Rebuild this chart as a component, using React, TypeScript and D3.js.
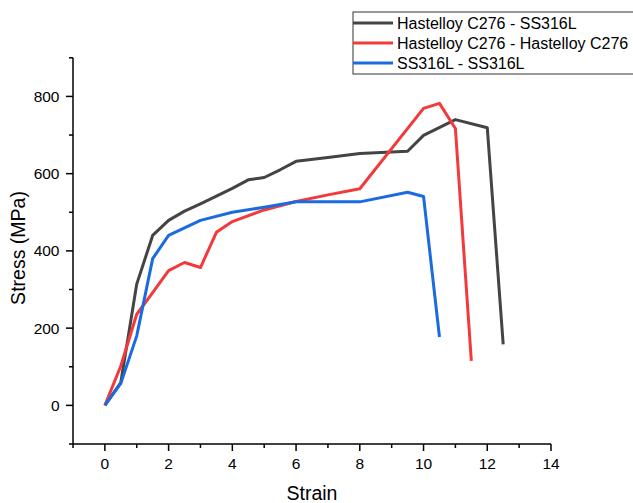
import React from "react";
import * as d3 from "d3";

const seriesNames = ["Hastelloy C276 - SS316L", "Hastelloy C276 - Hastelloy C276", "SS316L - SS316L"];
const seriesColors = ["#444444", "#f23a3c", "#1a6ae0"];

const blackStrain = [0, 0.5, 1, 1.5, 2, 2.5, 3, 3.5, 4, 4.5, 5, 5.5, 6, 7, 8, 9.5, 10, 11, 12, 12.5];
const blackStress = [0, 59, 314, 440, 479, 503, 522, 542, 562, 584, 590, 610, 632, 642, 652, 658, 699, 740, 719, 158];

const redStrain = [0, 0.5, 1, 1.5, 2, 2.5, 3, 3.5, 4, 5, 6, 7, 8, 10, 10.5, 11, 11.5];
const redStress = [0, 102, 236, 292, 349, 370, 357, 448, 476, 506, 528, 545, 561, 769, 782, 717, 115];

const blueStrain = [0, 0.5, 1, 1.5, 2, 3, 4, 5, 6, 8, 9.5, 10, 10.5];
const blueStress = [0, 57, 180, 380, 440, 479, 500, 513, 527, 527, 552, 541, 177];

const xMajor = [0, 2, 4, 6, 8, 10, 12, 14];
const xMinor = [-1, 1, 3, 5, 7, 9, 11, 13];
const yMajor = [0, 200, 400, 600, 800];
const yMinor = [-100, 100, 300, 500, 700, 900];

const W = 633;
const H = 503;
const left = 73;
const right = 551;
const top = 57.8;
const bottom = 444;

export default function App() {
  const x = d3.scaleLinear().domain([-1, 14]).range([left, right]);
  const y = d3.scaleLinear().domain([-100, 900]).range([bottom, top]);
  const line = d3
    .line<[number, number]>()
    .x((d) => x(d[0]))
    .y((d) => y(d[1]));

  const data: [number, number][][] = [
    blackStrain.map((s, i) => [s, blackStress[i]]),
    redStrain.map((s, i) => [s, redStress[i]]),
    blueStrain.map((s, i) => [s, blueStress[i]]),
  ];
  const drawOrder = [0, 1, 2];
  const font = "Arial, 'Liberation Sans', sans-serif";

  return (
    <svg
      width={W}
      height={H}
      style={{ position: "absolute", left: 0, top: 0, background: "#fff" }}
      fontFamily={font}
    >
      {drawOrder.map((i) => (
        <path
          key={i}
          d={line(data[i]) || ""}
          fill="none"
          stroke={seriesColors[i]}
          strokeWidth={3}
          strokeLinejoin="round"
        />
      ))}
      {/* axes */}
      <line x1={left} x2={left} y1={top} y2={bottom} stroke="#000" strokeWidth={1.5} />
      <line x1={left} x2={right} y1={bottom} y2={bottom} stroke="#000" strokeWidth={1.5} />
      {xMajor.map((t) => (
        <g key={"xm" + t}>
          <line x1={x(t)} x2={x(t)} y1={bottom} y2={bottom + 7} stroke="#000" strokeWidth={1.5} />
          <text x={x(t)} y={469} fontSize={15.5} textAnchor="middle" fill="#000">
            {t}
          </text>
        </g>
      ))}
      {xMinor.map((t) => (
        <line key={"xn" + t} x1={x(t)} x2={x(t)} y1={bottom} y2={bottom + 4} stroke="#000" strokeWidth={1.5} />
      ))}
      {yMajor.map((t) => (
        <g key={"ym" + t}>
          <line x1={left - 7} x2={left} y1={y(t)} y2={y(t)} stroke="#000" strokeWidth={1.5} />
          <text x={left - 13.5} y={y(t) + 5.5} fontSize={15.5} textAnchor="end" fill="#000">
            {t}
          </text>
        </g>
      ))}
      {yMinor.map((t) => (
        <line key={"yn" + t} x1={left - 4} x2={left} y1={y(t)} y2={y(t)} stroke="#000" strokeWidth={1.5} />
      ))}
      <text x={312} y={500} fontSize={19.5} textAnchor="middle" fill="#000">
        Strain
      </text>
      <text
        transform={`translate(25, 248) rotate(-90)`}
        fontSize={19.5}
        textAnchor="middle"
        fill="#000"
      >
        Stress (MPa)
      </text>
      {/* legend */}
      <rect x={353} y={12} width={290} height={62} fill="#fff" stroke="#333" strokeWidth={1} />
      {seriesNames.map((n, i) => (
        <g key={"lg" + i}>
          <line x1={353} x2={393} y1={23 + i * 20} y2={23 + i * 20} stroke={seriesColors[i]} strokeWidth={3} />
          <text x={397} y={23 + i * 20 + 6} fontSize={16} fill="#000">
            {n}
          </text>
        </g>
      ))}
    </svg>
  );
}
